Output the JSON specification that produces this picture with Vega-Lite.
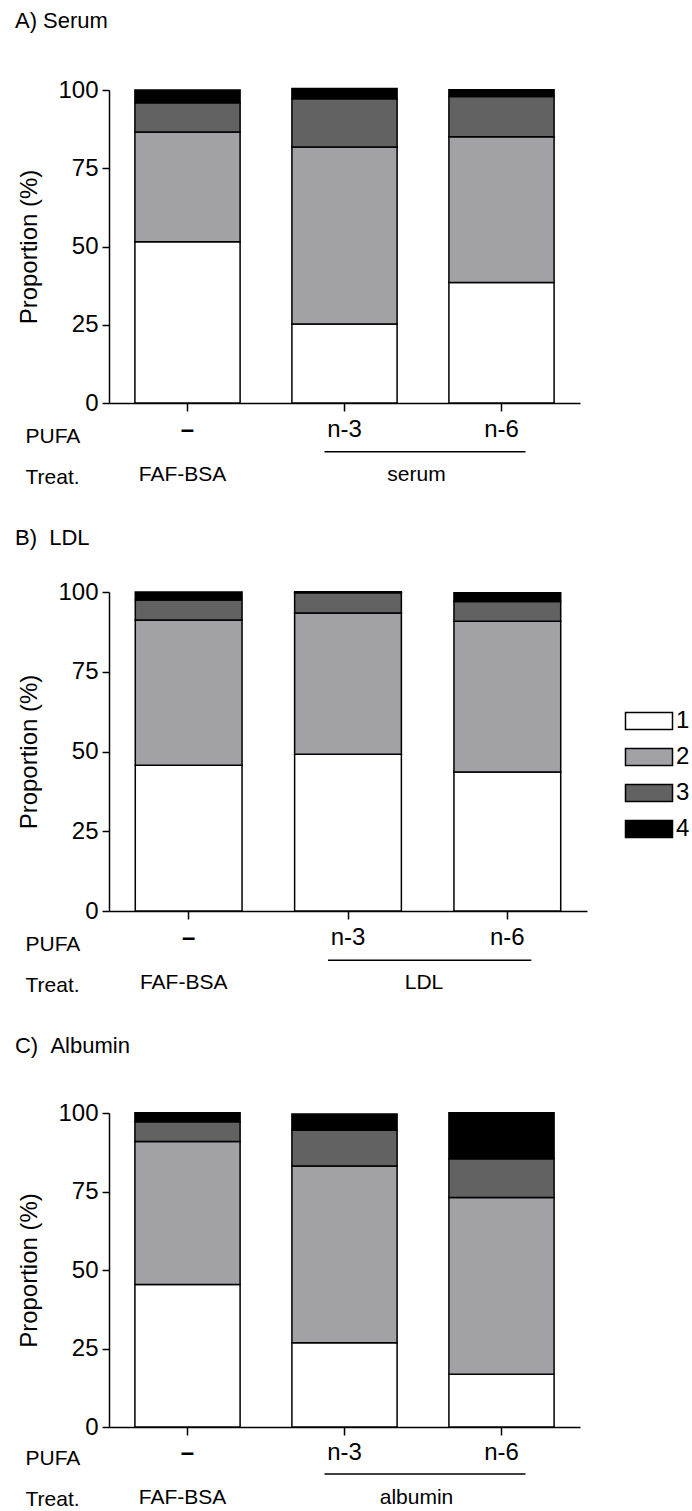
{
  "$schema": "https://vega.github.io/schema/vega-lite/v6.json",
  "padding": {"left": 14, "top": 10, "right": 0, "bottom": 0},
  "background": "white",
  "spacing": 40,
  "datasets": {
    "bars": [
      {"panel": "A", "pufa": "–", "grade": "1", "pct": 51.5},
      {"panel": "A", "pufa": "–", "grade": "2", "pct": 35.1},
      {"panel": "A", "pufa": "–", "grade": "3", "pct": 9.3},
      {"panel": "A", "pufa": "–", "grade": "4", "pct": 4.1},
      {"panel": "A", "pufa": "n-3", "grade": "1", "pct": 25.2},
      {"panel": "A", "pufa": "n-3", "grade": "2", "pct": 56.6},
      {"panel": "A", "pufa": "n-3", "grade": "3", "pct": 15.4},
      {"panel": "A", "pufa": "n-3", "grade": "4", "pct": 3.3},
      {"panel": "A", "pufa": "n-6", "grade": "1", "pct": 38.5},
      {"panel": "A", "pufa": "n-6", "grade": "2", "pct": 46.6},
      {"panel": "A", "pufa": "n-6", "grade": "3", "pct": 12.8},
      {"panel": "A", "pufa": "n-6", "grade": "4", "pct": 2.2},
      {"panel": "B", "pufa": "–", "grade": "1", "pct": 45.7},
      {"panel": "B", "pufa": "–", "grade": "2", "pct": 45.5},
      {"panel": "B", "pufa": "–", "grade": "3", "pct": 6.3},
      {"panel": "B", "pufa": "–", "grade": "4", "pct": 2.5},
      {"panel": "B", "pufa": "n-3", "grade": "1", "pct": 49.1},
      {"panel": "B", "pufa": "n-3", "grade": "2", "pct": 44.3},
      {"panel": "B", "pufa": "n-3", "grade": "3", "pct": 6.4},
      {"panel": "B", "pufa": "n-3", "grade": "4", "pct": 0.3},
      {"panel": "B", "pufa": "n-6", "grade": "1", "pct": 43.6},
      {"panel": "B", "pufa": "n-6", "grade": "2", "pct": 47.2},
      {"panel": "B", "pufa": "n-6", "grade": "3", "pct": 6.2},
      {"panel": "B", "pufa": "n-6", "grade": "4", "pct": 2.8},
      {"panel": "C", "pufa": "–", "grade": "1", "pct": 45.4},
      {"panel": "C", "pufa": "–", "grade": "2", "pct": 45.5},
      {"panel": "C", "pufa": "–", "grade": "3", "pct": 6.3},
      {"panel": "C", "pufa": "–", "grade": "4", "pct": 2.9},
      {"panel": "C", "pufa": "n-3", "grade": "1", "pct": 26.8},
      {"panel": "C", "pufa": "n-3", "grade": "2", "pct": 56.3},
      {"panel": "C", "pufa": "n-3", "grade": "3", "pct": 11.4},
      {"panel": "C", "pufa": "n-3", "grade": "4", "pct": 5.2},
      {"panel": "C", "pufa": "n-6", "grade": "1", "pct": 16.8},
      {"panel": "C", "pufa": "n-6", "grade": "2", "pct": 56.3},
      {"panel": "C", "pufa": "n-6", "grade": "3", "pct": 12.3},
      {"panel": "C", "pufa": "n-6", "grade": "4", "pct": 14.7}
    ],
    "treat": [
      {"panel": "A", "pufa": "–", "treat": "FAF-BSA", "from": "n-3", "to": "n-6", "group": "serum"},
      {"panel": "B", "pufa": "–", "treat": "FAF-BSA", "from": "n-3", "to": "n-6", "group": "LDL"},
      {"panel": "C", "pufa": "–", "treat": "FAF-BSA", "from": "n-3", "to": "n-6", "group": "albumin"}
    ]
  },
  "resolve": {"scale": {"color": "independent"}},
  "vconcat": [
    {
      "width": 471, "height": 313,
      "title": {"text": "A) Serum", "offset": 45, "dx": -3},
      "encoding": {
        "x": {"field": "pufa", "type": "nominal",
          "scale": {"domain": ["–", "n-3", "n-6"], "paddingInner": 0.33, "paddingOuter": 0.165},
          "axis": {"title": ["PUFA", "Treat."], "titleX": -84, "titleY": 22, "titleAlign": "left", "titleAnchor": "start", "titleBaseline": "top", "titleLineHeight": 41, "titleFontSize": 21, "labelAngle": 0, "labelFontSize": 24, "labelPadding": 6, "tickSize": 8,
            "labelFontWeight": {"condition": {"test": "datum.value === '–'", "value": "bold"}, "value": "normal"}}}
      },
      "layer": [
        {
          "data": {"name": "bars"},
          "transform": [{"filter": "datum.panel === 'A'"}],
          "mark": {"type": "bar", "stroke": "black", "strokeWidth": 1.5},
          "encoding": {
            "y": {"field": "pct", "type": "quantitative", "stack": "zero", "scale": {"domain": [0, 100], "nice": false},
              "axis": {"values": [0, 25, 50, 75, 100], "title": "Proportion (%)", "titleFontSize": 24, "titlePadding": 16, "labelFontSize": 24, "labelPadding": 4, "tickSize": 7}},
            "color": {"field": "grade", "type": "nominal", "scale": {"domain": ["1", "2", "3", "4"], "range": ["#ffffff", "#a2a1a5", "#626262", "#000000"]}, "legend": null},
            "order": {"field": "grade", "sort": "ascending"}
          }
        },
        {
          "data": {"name": "treat"},
          "transform": [{"filter": "datum.panel === 'A'"}],
          "mark": {"type": "rule", "stroke": "black", "strokeWidth": 1.5, "xOffset": -20, "x2Offset": 24},
          "encoding": {
            "x": {"field": "from", "type": "nominal"},
            "x2": {"field": "to"},
            "y": {"datum": -15.6, "type": "quantitative"}
          }
        },
        {
          "data": {"name": "treat"},
          "transform": [{"filter": "datum.panel === 'A'"}],
          "mark": {"type": "text", "fontSize": 21, "baseline": "middle", "dx": -5},
          "encoding": {
            "text": {"field": "treat"},
            "y": {"datum": -23, "type": "quantitative"}
          }
        },
        {
          "data": {"name": "treat"},
          "transform": [{"filter": "datum.panel === 'A'"}],
          "mark": {"type": "text", "fontSize": 21, "baseline": "middle", "dx": 72},
          "encoding": {
            "x": {"field": "from", "type": "nominal"},
            "text": {"field": "group"},
            "y": {"datum": -23, "type": "quantitative"}
          }
        }
      ]
    },
    {
      "width": 478, "height": 319,
      "title": {"text": "B)\u00a0\u00a0LDL", "offset": 30, "dx": -3},
      "encoding": {
        "x": {"field": "pufa", "type": "nominal",
          "scale": {"domain": ["–", "n-3", "n-6"], "paddingInner": 0.33, "paddingOuter": 0.165},
          "axis": {"title": ["PUFA", "Treat."], "titleX": -84, "titleY": 22, "titleAlign": "left", "titleAnchor": "start", "titleBaseline": "top", "titleLineHeight": 41, "titleFontSize": 21, "labelAngle": 0, "labelFontSize": 24, "labelPadding": 6, "tickSize": 8,
            "labelFontWeight": {"condition": {"test": "datum.value === '–'", "value": "bold"}, "value": "normal"}}}
      },
      "layer": [
        {
          "data": {"name": "bars"},
          "transform": [{"filter": "datum.panel === 'B'"}],
          "mark": {"type": "bar", "stroke": "black", "strokeWidth": 1.5},
          "encoding": {
            "y": {"field": "pct", "type": "quantitative", "stack": "zero", "scale": {"domain": [0, 100], "nice": false},
              "axis": {"values": [0, 25, 50, 75, 100], "title": "Proportion (%)", "titleFontSize": 24, "titlePadding": 16, "labelFontSize": 24, "labelPadding": 4, "tickSize": 7}},
            "color": {"field": "grade", "type": "nominal", "scale": {"domain": ["1", "2", "3", "4"], "range": ["#ffffff", "#a2a1a5", "#626262", "#000000"]},
              "legend": {"orient": "none", "legendX": 528, "legendY": 117, "title": null, "padding": 0,
                "symbolType": "M-2.765,-1H2.765V1H-2.765Z", "symbolSize": 289, "symbolStrokeColor": "black", "symbolStrokeWidth": 1.5, "symbolOpacity": 1,
                "labelFontSize": 24, "labelOffset": 15, "rowPadding": 12, "labelColor": "black", "labelFont": "Liberation Sans"}},
            "order": {"field": "grade", "sort": "ascending"}
          }
        },
        {
          "data": {"name": "treat"},
          "transform": [{"filter": "datum.panel === 'B'"}],
          "mark": {"type": "rule", "stroke": "black", "strokeWidth": 1.5, "xOffset": -20, "x2Offset": 24},
          "encoding": {
            "x": {"field": "from", "type": "nominal"},
            "x2": {"field": "to"},
            "y": {"datum": -15.4, "type": "quantitative"}
          }
        },
        {
          "data": {"name": "treat"},
          "transform": [{"filter": "datum.panel === 'B'"}],
          "mark": {"type": "text", "fontSize": 21, "baseline": "middle", "dx": -5},
          "encoding": {
            "text": {"field": "treat"},
            "y": {"datum": -22.6, "type": "quantitative"}
          }
        },
        {
          "data": {"name": "treat"},
          "transform": [{"filter": "datum.panel === 'B'"}],
          "mark": {"type": "text", "fontSize": 21, "baseline": "middle", "dx": 76},
          "encoding": {
            "x": {"field": "from", "type": "nominal"},
            "text": {"field": "group"},
            "y": {"datum": -22.6, "type": "quantitative"}
          }
        }
      ]
    },
    {
      "width": 471, "height": 314,
      "title": {"text": "C)\u00a0\u00a0Albumin", "offset": 43, "dx": -3},
      "encoding": {
        "x": {"field": "pufa", "type": "nominal",
          "scale": {"domain": ["–", "n-3", "n-6"], "paddingInner": 0.33, "paddingOuter": 0.165},
          "axis": {"title": ["PUFA", "Treat."], "titleX": -84, "titleY": 20, "titleAlign": "left", "titleAnchor": "start", "titleBaseline": "top", "titleLineHeight": 41, "titleFontSize": 21, "labelAngle": 0, "labelFontSize": 24, "labelPadding": 5, "tickSize": 8,
            "labelFontWeight": {"condition": {"test": "datum.value === '–'", "value": "bold"}, "value": "normal"}}}
      },
      "layer": [
        {
          "data": {"name": "bars"},
          "transform": [{"filter": "datum.panel === 'C'"}],
          "mark": {"type": "bar", "stroke": "black", "strokeWidth": 1.5},
          "encoding": {
            "y": {"field": "pct", "type": "quantitative", "stack": "zero", "scale": {"domain": [0, 100], "nice": false},
              "axis": {"values": [0, 25, 50, 75, 100], "title": "Proportion (%)", "titleFontSize": 24, "titlePadding": 16, "labelFontSize": 24, "labelPadding": 4, "tickSize": 7}},
            "color": {"field": "grade", "type": "nominal", "scale": {"domain": ["1", "2", "3", "4"], "range": ["#ffffff", "#a2a1a5", "#626262", "#000000"]}, "legend": null},
            "order": {"field": "grade", "sort": "ascending"}
          }
        },
        {
          "data": {"name": "treat"},
          "transform": [{"filter": "datum.panel === 'C'"}],
          "mark": {"type": "rule", "stroke": "black", "strokeWidth": 1.5, "xOffset": -20, "x2Offset": 24},
          "encoding": {
            "x": {"field": "from", "type": "nominal"},
            "x2": {"field": "to"},
            "y": {"datum": -15.0, "type": "quantitative"}
          }
        },
        {
          "data": {"name": "treat"},
          "transform": [{"filter": "datum.panel === 'C'"}],
          "mark": {"type": "text", "fontSize": 21, "baseline": "middle", "dx": -5},
          "encoding": {
            "text": {"field": "treat"},
            "y": {"datum": -22.6, "type": "quantitative"}
          }
        },
        {
          "data": {"name": "treat"},
          "transform": [{"filter": "datum.panel === 'C'"}],
          "mark": {"type": "text", "fontSize": 21, "baseline": "middle", "dx": 72},
          "encoding": {
            "x": {"field": "from", "type": "nominal"},
            "text": {"field": "group"},
            "y": {"datum": -22.6, "type": "quantitative"}
          }
        }
      ]
    }
  ],
  "config": {
    "font": "Liberation Sans",
    "view": {"stroke": null},
    "text": {"font": "Liberation Sans", "color": "black"},
    "title": {"font": "Liberation Sans", "fontSize": 22, "fontWeight": "normal", "anchor": "start", "frame": "bounds", "color": "black"},
    "axis": {"domainColor": "black", "tickColor": "black", "labelColor": "black", "titleColor": "black", "labelFont": "Liberation Sans", "titleFont": "Liberation Sans", "titleFontWeight": "normal", "domainWidth": 1.5, "tickWidth": 1.5, "grid": false}
  }
}
